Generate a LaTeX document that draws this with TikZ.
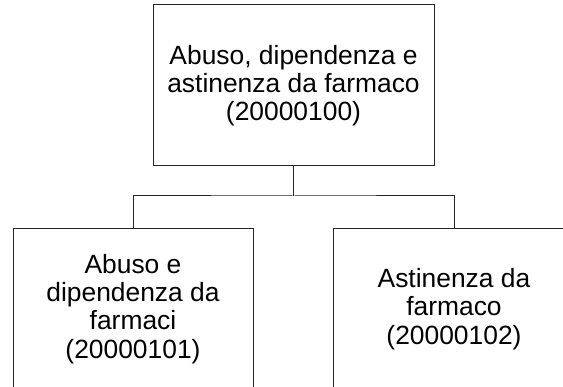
\documentclass[tikz,border=0pt]{standalone}
\usepackage{fontspec}
\setmainfont{Liberation Sans}
\begin{document}
\begin{tikzpicture}[x=1pt,y=1pt,
  box/.style={draw=black!85, line width=1pt, fill=white, align=center, inner sep=0pt,
    font=\fontsize{26.4}{28.3}\selectfont},
  link/.style={draw=black!85, line width=1pt}]
\useasboundingbox (0,0) rectangle (563,-387);
\clip (0,0) rectangle (563,-387);
\node[box, minimum width=281, minimum height=161] (top) at (293.5,-85.5)
  {Abuso, dipendenza e\\astinenza da farmaco\\(20000100)};
\node[box, minimum width=240, minimum height=161] (left) at (133,-309)
  {Abuso e\\dipendenza da\\farmaci\\(20000101)};
\node[box, minimum width=242, minimum height=161] (right) at (454,-309)
  {Astinenza da\\farmaco\\(20000102)};
\coordinate (mid) at (293.5,-196);
\draw[link] (top.south) -- (mid);
\draw[link] (left.north) |- (mid) -| (right.north);
\end{tikzpicture}
\end{document}
